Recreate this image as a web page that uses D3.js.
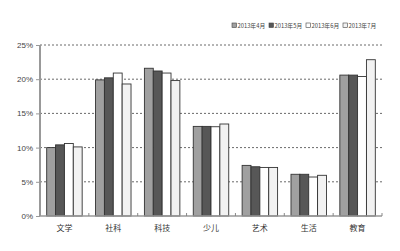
<!DOCTYPE html>
<html>
<head>
<meta charset="utf-8">
<script src="https://cdn.jsdelivr.net/npm/d3@7"></script>
<style>
  body { margin: 0; background: #fff; }
  svg { display: block; font-family: "Liberation Sans", "Noto Sans CJK SC", sans-serif; }
  .grid line { stroke: #444; stroke-dasharray: 2,2; stroke-width: 0.8; }
</style>
</head>
<body>
<div id="chart"></div>
<script>
var categories = ["文学", "社科", "科技", "少儿", "艺术", "生活", "教育"];
var seriesNames = ["2013年4月", "2013年5月", "2013年6月", "2013年7月"];
var seriesColors = ["#a0a0a0", "#575757", "#ffffff", "#f2f2f2"];
// share of each category, in percent
var apr = [10.0, 19.9, 21.6, 13.1, 7.4, 6.1, 20.6],
    may = [10.4, 20.2, 21.2, 13.1, 7.2, 6.1, 20.6],
    jun = [10.6, 20.9, 20.9, 13.05, 7.1, 5.7, 20.4],
    jul = [10.1, 19.3, 19.8, 13.45, 7.1, 5.95, 22.85];
var yTicks = [0, 5, 10, 15, 20, 25];

var values = [apr, may, jun, jul];

var width = 400, height = 251;
var margin = {top: 45, right: 18, bottom: 35, left: 40};
var innerW = width - margin.left - margin.right,
    innerH = height - margin.top - margin.bottom;

var svg = d3.select("#chart").append("svg")
    .attr("width", width)
    .attr("height", height);

var g = svg.append("g")
    .attr("transform", "translate(" + margin.left + "," + margin.top + ")");

var x0 = d3.scaleBand().domain(categories).range([0, innerW])
    .paddingInner(0.274).paddingOuter(0.137);
var x1 = d3.scaleBand().domain(d3.range(seriesNames.length)).range([0, x0.bandwidth()]).padding(0);
var y = d3.scaleLinear().domain([0, 25]).range([innerH, 0]);

// dashed gridlines
g.append("g").attr("class", "grid")
  .selectAll("line")
  .data(yTicks.slice(1))
  .enter().append("line")
    .attr("x1", 0).attr("x2", innerW)
    .attr("y1", function(d) { return y(d); })
    .attr("y2", function(d) { return y(d); });

// y axis labels
var yAxis = d3.axisLeft(y).tickValues(yTicks).tickFormat(function(d) { return d + "%"; }).tickSize(4);
var ya = g.append("g").call(yAxis);
ya.select(".domain").remove();
ya.selectAll("line").attr("stroke", "#999").attr("stroke-width", 1);
ya.selectAll("text").attr("x", -7).style("font-size", "8px").attr("fill", "#444");

// bars
var groups = g.selectAll(".cat")
  .data(categories)
  .enter().append("g")
    .attr("class", "cat")
    .attr("transform", function(d) { return "translate(" + x0(d) + ",0)"; });

groups.selectAll("rect")
  .data(function(d, i) { return values.map(function(s, j) { return {s: j, v: s[i]}; }); })
  .enter().append("rect")
    .attr("x", function(d) { return x1(d.s); })
    .attr("width", x1.bandwidth())
    .attr("y", function(d) { return y(d.v); })
    .attr("height", function(d) { return innerH - y(d.v); })
    .attr("fill", function(d) { return seriesColors[d.s]; })
    .attr("stroke", "#333")
    .attr("stroke-width", 0.9);

// axes lines
g.append("line").attr("x1", 0).attr("x2", 0).attr("y1", 0).attr("y2", innerH)
  .attr("stroke", "#999").attr("stroke-width", 2);
g.append("line").attr("x1", 0).attr("x2", innerW).attr("y1", innerH).attr("y2", innerH)
  .attr("stroke", "#999").attr("stroke-width", 1.5);

// small ticks between categories
g.selectAll(".ctick")
  .data(d3.range(1, categories.length + 1))
  .enter().append("line")
    .attr("x1", function(d) { return d * x0.step(); })
    .attr("x2", function(d) { return d * x0.step(); })
    .attr("y1", innerH - 3).attr("y2", innerH)
    .attr("stroke", "#888").attr("stroke-width", 1);

// category labels
g.selectAll(".clabel")
  .data(categories)
  .enter().append("text")
    .attr("x", function(d) { return x0(d) + x0.bandwidth() / 2; })
    .attr("y", innerH + 15)
    .attr("text-anchor", "middle")
    .style("font-size", "8px")
    .style("font-family", "'Noto Sans CJK SC', sans-serif")
    .attr("fill", "#333")
    .text(function(d) { return d; });

// legend
var legend = svg.append("g").attr("transform", "translate(232,28)");
var item = legend.selectAll(".li")
  .data(seriesNames)
  .enter().append("g")
    .attr("transform", function(d, i) { return "translate(" + (i * 37) + ",0)"; });
item.append("rect")
    .attr("x", 0).attr("y", -5).attr("width", 4.5).attr("height", 4.5)
    .attr("fill", function(d, i) { return seriesColors[i]; })
    .attr("stroke", "#444").attr("stroke-width", 0.6);
item.append("text")
    .attr("x", 5.5).attr("y", 0)
    .style("font-size", "5.8px")
    .style("font-family", "'Noto Sans CJK SC', sans-serif")
    .attr("fill", "#444")
    .text(function(d) { return d; });
</script>
</body>
</html>
